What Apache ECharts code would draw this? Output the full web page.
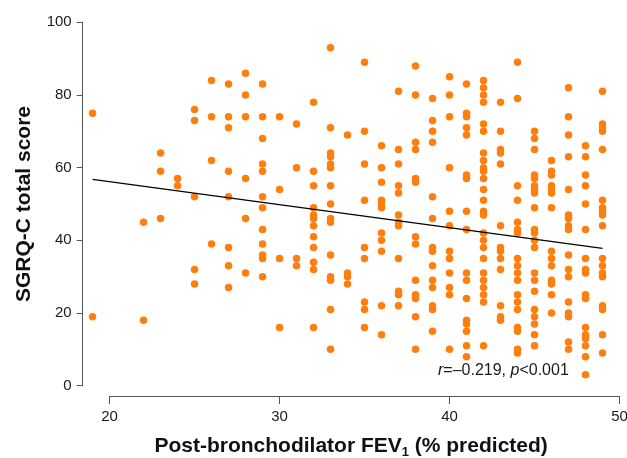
<!DOCTYPE html>
<html>
<head>
<meta charset="utf-8">
<script src="https://cdn.jsdelivr.net/npm/echarts@6/dist/echarts.min.js"></script>
<style>
  html, body { margin: 0; padding: 0; background: #fff; }
  #chart { width: 627px; height: 458px; }
</style>
</head>
<body>
<div id="chart"></div>
<script>
// FEV1 % predicted (x) and the SGRQ-C scores seen at each of them
const fev = [19, 22, 23, 24, 25, 26, 27, 28, 29, 30, 31, 32, 33, 34,
  35, 36, 37, 38, 39, 40, 41, 42, 43, 44, 45, 46, 47, 48, 49]
const sgrq = [
  [75, 19],
  [45, 18],
  [64, 59, 46],
  [57, 55],
  [76, 73, 52, 32, 28],
  [84, 74, 62, 39],
  [83, 74, 71, 59, 52, 38, 33, 27],
  [86, 80, 74, 57, 46, 31],
  [83, 74, 68, 61, 59, 52, 49, 43, 39, 36, 35, 30],
  [74, 54, 35, 16],
  [72, 60, 35, 33],
  [78, 59, 55, 49, 47, 46, 44, 41, 38, 34, 32, 16],
  [93, 71, 64, 63, 61, 60, 55, 50, 46, 45, 36, 30, 29, 21, 10],
  [69, 31, 30, 28],
  [89, 70, 61, 51, 38, 35, 23, 21, 16],
  [66, 60, 56, 51, 50, 49, 42, 40, 37, 22, 14],
  [81, 65, 61, 55, 53, 47, 45, 44, 35, 26, 25, 22],
  [88, 80, 67, 65, 57, 56, 41, 39, 29, 25, 24, 19, 10],
  [79, 73, 70, 67, 52, 46, 38, 37, 33, 29, 27, 22, 21, 15],
  [85, 80, 74, 60, 48, 44, 37, 35, 31, 27, 25, 10],
  [83, 75, 74, 71, 69, 58, 57, 48, 43, 31, 29, 24, 18, 17, 15, 11, 8],
  [84, 82, 80, 78, 72, 70, 64, 62, 60, 59, 57, 54, 51, 48, 47, 42, 40, 38, 35, 31, 29, 27, 25, 23, 11],
  [78, 70, 65, 64, 61, 44, 38, 37, 35, 32, 22, 19, 18],
  [89, 79, 55, 51, 45, 43, 42, 35, 33, 31, 29, 25, 23, 21, 16, 15, 10, 9],
  [70, 68, 65, 58, 57, 55, 54, 53, 49, 43, 42, 40, 38, 31, 29, 26, 21, 19, 17, 14, 11],
  [62, 59, 58, 55, 54, 53, 49, 37, 35, 33, 29, 28, 25, 20],
  [82, 74, 69, 63, 54, 47, 46, 44, 43, 36, 32, 30, 23, 20, 19, 12, 10],
  [66, 63, 58, 55, 50, 43, 35, 32, 31, 25, 24, 16, 14, 13, 11, 8, 3],
  [81, 72, 71, 70, 65, 51, 49, 48, 47, 44, 35, 33, 31, 30, 22, 21, 14, 9]
]
// fitted line ends
const fitX = [19, 49]
const fitY = [56.8, 37.8]
const xTicks = [20, 30, 40, 50]
const yTicks = [0, 20, 40, 60, 80, 100]

const points = []
fev.forEach((x, i) => {
  sgrq[i].forEach(y => points.push([x, y]))
})
const fit = fitX.map((x, i) => [x, fitY[i]])

const font = 'Liberation Sans, Arial, sans-serif'
const axisGrey = '#555'

const chart = echarts.init(document.getElementById('chart'), null, { renderer: 'canvas' })
chart.setOption({
  animation: false,
  textStyle: { fontFamily: font },
  grid: [
    // data area
    { left: 82.7, width: 536.8, top: 22.3, height: 363.4, outerBoundsMode: 'none', containLabel: false },
    // grid only used to draw the x axis from 20 to 50
    { left: 109.5, width: 510, top: 300, height: 96, outerBoundsMode: 'none', containLabel: false }
  ],
  xAxis: [
    {
      // data axis: only its title is shown, centred on the plot area
      gridIndex: 0, type: 'value', min: 18.42, max: 50,
      axisLine: { show: false },
      axisTick: { show: false },
      axisLabel: { show: false },
      splitLine: { show: false },
      name: '{b|Post-bronchodilator FEV}{s|1}{b| (% predicted)}',
      nameLocation: 'middle',
      nameGap: 49,
      nameTextStyle: {
        rich: {
          b: { fontSize: 21, fontWeight: 'bold', color: '#111', fontFamily: font, lineHeight: 24 },
          s: { fontSize: 13, fontWeight: 'bold', color: '#111', fontFamily: font, lineHeight: 24, verticalAlign: 'bottom', padding: [9, 0, 0, 0] }
        }
      }
    },
    {
      gridIndex: 1, type: 'value', min: xTicks[0], max: xTicks[xTicks.length - 1], interval: 10,
      axisLine: { show: true, lineStyle: { color: axisGrey, width: 1 } },
      axisTick: { show: true, length: 8, lineStyle: { color: axisGrey } },
      axisLabel: { color: '#1a1a1a', fontSize: 15, margin: 13, fontFamily: font },
      splitLine: { show: false }
    }
  ],
  yAxis: [
    {
      gridIndex: 0, type: 'value', min: yTicks[0], max: yTicks[yTicks.length - 1], interval: 20,
      axisLine: { show: true, lineStyle: { color: axisGrey, width: 1 } },
      axisTick: { show: true, length: 6, lineStyle: { color: axisGrey } },
      axisLabel: { color: '#1a1a1a', fontSize: 15, margin: 11, fontFamily: font },
      splitLine: { show: false },
      name: 'SGRQ-C total score',
      nameLocation: 'middle',
      nameRotate: 90,
      nameGap: 48,
      nameTextStyle: { fontSize: 21, fontWeight: 'bold', color: '#111', fontFamily: font }
    },
    { gridIndex: 1, type: 'value', show: false }
  ],
  series: [
    {
      type: 'scatter',
      xAxisIndex: 0, yAxisIndex: 0,
      data: points,
      symbolSize: 7.5,
      itemStyle: { color: '#ff7f0e', opacity: 1 }
    },
    {
      type: 'line',
      xAxisIndex: 0, yAxisIndex: 0,
      data: fit,
      showSymbol: false,
      symbol: 'none',
      lineStyle: { color: '#000', width: 1.2 },
      z: 3
    }
  ],
  graphic: [
    {
      type: 'text',
      left: 438,
      top: 363,
      style: {
        text: '{i|r}{n|=–0.219, }{i|p}{n|<0.001}',
        rich: {
          i: { fontSize: 16, fontStyle: 'italic', fill: '#1a1a1a', fontFamily: font },
          n: { fontSize: 16, fill: '#1a1a1a', fontFamily: font }
        }
      }
    }
  ]
})
</script>
</body>
</html>
